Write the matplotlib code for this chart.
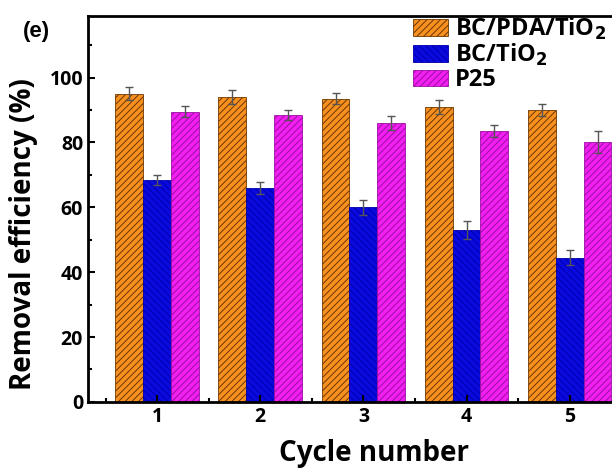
import numpy as np
import matplotlib.pyplot as plt
from matplotlib.ticker import MultipleLocator

plt.rcParams['font.family'] = ['Open Sans', 'DejaVu Sans']
plt.rcParams['font.weight'] = 'bold'
plt.rcParams['hatch.linewidth'] = 0.7

# -----------------------------
# Data
# -----------------------------
cycles = [1, 2, 3, 4, 5]
labels = ["BC/PDA/TiO$_2$", "BC/TiO$_2$", "P25"]
bc_pda = [95.0, 94.0, 93.5, 91.0, 90.0]
bc_pda_err = [2.0, 2.3, 1.8, 2.2, 1.8]
bc_tio2 = [68.5, 66.0, 60.0, 53.0, 44.5]
bc_tio2_err = [1.5, 1.8, 2.4, 2.8, 2.2]
p25 = [89.5, 88.5, 86.0, 83.5, 80.0]
p25_err = [1.6, 1.6, 2.2, 1.8, 3.4]

fig = plt.figure(figsize=(6.12, 4.69), dpi=100)
ax = fig.add_axes([0.1438, 0.143, 0.90, 0.823])

x = np.array(cycles)
w = 0.27
series = [
    (bc_pda, bc_pda_err, "#f7901e", "#6a3800", "/////"),
    (bc_tio2, bc_tio2_err, "#0a0ae0", "#0000a8", "\\\\\\\\\\"),
    (p25, p25_err, "#f21ef2", "#9a10a0", "/////"),
]
for i, (vals, errs, col, hc, hat) in enumerate(series):
    ax.bar(x + (i - 1) * w, vals, w, color=col, edgecolor=hc, hatch=hat,
           linewidth=0.6, label=labels[i],
           yerr=errs, capsize=3, error_kw=dict(ecolor="#555555", elinewidth=1, capthick=1))

ax.set_xlim(0.33, 5.67)
ax.set_ylim(0, 119)
ax.set_xticks(cycles)
ax.xaxis.set_minor_locator(MultipleLocator(0.5))
ax.yaxis.set_major_locator(MultipleLocator(20))
ax.yaxis.set_minor_locator(MultipleLocator(10))
ax.tick_params(which='both', direction='in', width=1.5, labelsize=14)
ax.tick_params(which='major', length=5)
ax.tick_params(which='minor', length=3)
for s in ax.spines.values():
    s.set_linewidth(2)

ax.set_xlabel("Cycle number", fontsize=20, fontweight='bold')
ax.set_ylabel("Removal efficiency (%)", fontsize=20, fontweight='bold')
ax.xaxis.set_label_coords(0.52, -0.095)
ax.yaxis.set_label_coords(-0.09, 0.435)
fig.text(0.038, 0.921, "(e)", fontsize=16, fontweight='bold',
         family=['Liberation Sans', 'DejaVu Sans'])

ax.legend(loc='upper left', bbox_to_anchor=(0.572, 1.025), frameon=False,
          fontsize=17, handlelength=1.5, handleheight=0.7, labelspacing=0.0,
          handletextpad=0.3, borderaxespad=0)

plt.savefig("out.png", dpi=100)
